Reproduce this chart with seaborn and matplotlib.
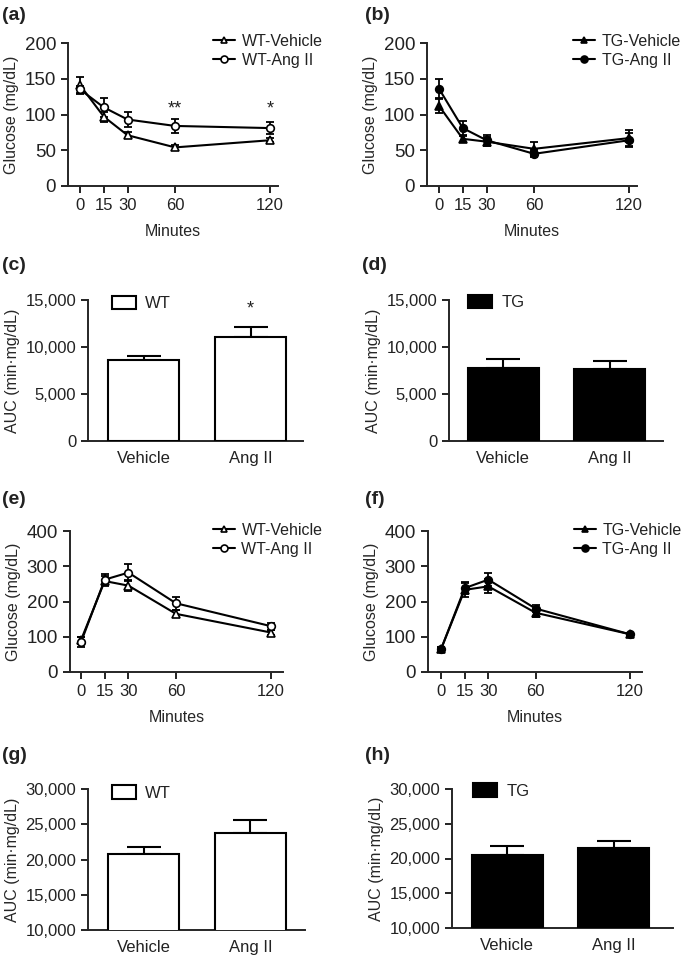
import matplotlib
matplotlib.use("Agg")
import matplotlib.pyplot as plt
from matplotlib.patches import Patch
from matplotlib.lines import Line2D
from matplotlib.ticker import FuncFormatter
import numpy as np
import pandas as pd
import seaborn as sns

# ---- data ----
minutes = [0, 15, 30, 60, 120]

# ITT (a, b)
itt_wt_veh = [141, 97, 71, 54, 64]
itt_wt_veh_err = [12, 7, 4, 3, 3]
itt_wt_ang = [135, 110, 93, 84, 81]
itt_wt_ang_err = [5, 13, 11, 10, 8]
itt_tg_veh = [112, 66, 62, 52, 67]
itt_tg_veh_err = [10, 4, 6, 10, 11]
itt_tg_ang = [136, 81, 64, 45, 64]
itt_tg_ang_err = [13, 10, 7, 5, 10]

# GTT (e, f)
gtt_wt_veh = [90, 258, 245, 165, 112]
gtt_wt_veh_err = [10, 15, 15, 10, 8]
gtt_wt_ang = [84, 262, 282, 195, 130]
gtt_wt_ang_err = [14, 15, 25, 18, 10]
gtt_tg_veh = [65, 233, 243, 168, 107]
gtt_tg_veh_err = [5, 20, 20, 12, 4]
gtt_tg_ang = [65, 238, 262, 180, 107]
gtt_tg_ang_err = [5, 18, 18, 10, 4]

treatments = ["Vehicle", "Ang II"]
auc_itt_wt = [8600, 11050]
auc_itt_wt_err = [400, 1100]
auc_itt_tg = [7730, 7660]
auc_itt_tg_err = [950, 850]
auc_gtt_wt = [20850, 23700]
auc_gtt_wt_err = [900, 1950]
auc_gtt_tg = [20450, 21500]
auc_gtt_tg_err = [1300, 1000]

sns.set_style("ticks")
plt.rcParams["font.family"] = ["Liberation Sans", "DejaVu Sans"]
plt.rcParams["axes.linewidth"] = 1.4
plt.rcParams["xtick.major.width"] = 1.4
plt.rcParams["ytick.major.width"] = 1.4
plt.rcParams["xtick.major.size"] = 5
plt.rcParams["ytick.major.size"] = 5
plt.rcParams["xtick.labelsize"] = 12
plt.rcParams["ytick.labelsize"] = 12
plt.rcParams["text.color"] = "#222222"
plt.rcParams["xtick.color"] = "#222222"
plt.rcParams["ytick.color"] = "#222222"

W, H = 685, 957
fig = plt.figure(figsize=(W / 100, H / 100), dpi=100)


def add_ax(left, right, top, bottom):
    return fig.add_axes([left / W, 1 - bottom / H, (right - left) / W, (bottom - top) / H])


def line_panel(ax, veh, veh_err, ang, ang_err, labels, filled, ylim, yticks, xlim, legx, legy):
    face = "black" if filled else "white"
    for vals, err, lab, mk in [(veh, veh_err, labels[0], "^"), (ang, ang_err, labels[1], "o")]:
        df = pd.DataFrame({"Minutes": minutes, "Glucose": vals})
        sns.lineplot(data=df, x="Minutes", y="Glucose", ax=ax, color="black", lw=1.5,
                     marker=mk, markersize=5.5, markerfacecolor=face,
                     markeredgecolor="black", markeredgewidth=1.2, label=lab, zorder=3)
        ax.errorbar(minutes, vals, yerr=err, fmt="none", ecolor="black",
                    elinewidth=1.3, capsize=3, capthick=1.3, zorder=2)
    ax.set_xlim(*xlim)
    ax.set_ylim(*ylim)
    ax.set_xticks(minutes)
    ax.set_yticks(yticks)
    ax.tick_params(axis="y", labelsize=13.5)
    ax.set_xlabel("Minutes", fontsize=11.5, labelpad=8)
    ax.set_ylabel("Glucose (mg/dL)", fontsize=11.5, labelpad=4)
    sns.despine(ax=ax)
    handles = [Line2D([], [], color="black", lw=1.5, marker="^", markersize=5,
                      markerfacecolor=face, markeredgewidth=1.2),
               Line2D([], [], color="black", lw=1.5, marker="o", markersize=5,
                      markerfacecolor=face, markeredgewidth=1.2)]
    ax.legend(handles, labels, loc="upper left", bbox_to_anchor=(legx, legy),
              frameon=False, fontsize=11.5, handlelength=1.4, handletextpad=0.4,
              labelspacing=0.25, borderaxespad=0, borderpad=0)


def bar_panel(ax, vals, errs, face, leglabel, ylim, yticks, xlim, legx, legy):
    df = pd.DataFrame({"Treatment": treatments, "AUC": vals})
    sns.barplot(data=df, x="Treatment", y="AUC", color=face, edgecolor="black",
                linewidth=1.5, width=0.67, ax=ax, zorder=3, saturation=1)
    ax.errorbar([0, 1], vals, yerr=[[0, 0], errs], fmt="none", ecolor="black",
                elinewidth=1.5, capsize=12, capthick=1.5, zorder=2)
    ax.set_xlim(*xlim)
    ax.set_ylim(*ylim)
    ax.set_yticks(yticks)
    ax.yaxis.set_major_formatter(FuncFormatter(lambda v, p: f"{v:,.0f}"))
    ax.tick_params(axis="x", length=0, pad=7)
    ax.set_xlabel("")
    ax.set_ylabel("AUC (min\u00b7mg/dL)", fontsize=11.5, labelpad=4)
    sns.despine(ax=ax)
    ax.legend([Patch(facecolor=face, edgecolor="black", lw=1.5)], [leglabel],
              loc="upper left", bbox_to_anchor=(legx, legy), frameon=False,
              fontsize=12, handlelength=1.45, handleheight=0.85, handletextpad=0.55,
              borderaxespad=0, borderpad=0)


# (a) ITT WT
ax_a = add_ax(68, 278, 43, 186)
line_panel(ax_a, itt_wt_veh, itt_wt_veh_err, itt_wt_ang, itt_wt_ang_err,
           ["WT-Vehicle", "WT-Ang II"], False, (0, 200), [0, 50, 100, 150, 200],
           (-7.6, 125), 0.69, 1.065)
ax_a.text(60, 108, "**", ha="center", va="center", fontsize=13)
ax_a.text(120, 108, "*", ha="center", va="center", fontsize=13)

# (b) ITT TG
ax_b = add_ax(427, 637, 43, 186)
line_panel(ax_b, itt_tg_veh, itt_tg_veh_err, itt_tg_ang, itt_tg_ang_err,
           ["TG-Vehicle", "TG-Ang II"], True, (0, 200), [0, 50, 100, 150, 200],
           (-7.6, 125), 0.695, 1.065)

# (c) AUC ITT WT
ax_c = add_ax(88, 303, 300, 441)
bar_panel(ax_c, auc_itt_wt, auc_itt_wt_err, "white", "WT", (0, 15000),
          [0, 5000, 10000, 15000], (-0.52, 1.49), 0.11, 1.03)
ax_c.text(1, 14000, "*", ha="center", va="center", fontsize=13)

# (d) AUC ITT TG
ax_d = add_ax(449, 663, 300, 441)
bar_panel(ax_d, auc_itt_tg, auc_itt_tg_err, "black", "TG", (0, 15000),
          [0, 5000, 10000, 15000], (-0.51, 1.50), 0.09, 1.035)

# (e) GTT WT
ax_e = add_ax(70, 283, 531, 672)
line_panel(ax_e, gtt_wt_veh, gtt_wt_veh_err, gtt_wt_ang, gtt_wt_ang_err,
           ["WT-Vehicle", "WT-Ang II"], False, (0, 400), [0, 100, 200, 300, 400],
           (-6.9, 127.6), 0.67, 1.06)

# (f) GTT TG
ax_f = add_ax(428, 642, 531, 672)
line_panel(ax_f, gtt_tg_veh, gtt_tg_veh_err, gtt_tg_ang, gtt_tg_ang_err,
           ["TG-Vehicle", "TG-Ang II"], True, (0, 400), [0, 100, 200, 300, 400],
           (-8.3, 127.6), 0.68, 1.06)

# (g) AUC GTT WT
ax_g = add_ax(88, 305, 789, 930)
bar_panel(ax_g, auc_gtt_wt, auc_gtt_wt_err, "white", "WT", (10000, 30000),
          [10000, 15000, 20000, 25000, 30000], (-0.52, 1.51), 0.11, 1.025)

# (h) AUC GTT TG
ax_h = add_ax(452, 673, 789, 928)
bar_panel(ax_h, auc_gtt_tg, auc_gtt_tg_err, "black", "TG", (10000, 30000),
          [10000, 15000, 20000, 25000, 30000], (-0.52, 1.56), 0.095, 1.04)

for lab, x, y in [("(a)", 2, 15), ("(b)", 365, 15), ("(c)", 2, 265), ("(d)", 362, 265),
                  ("(e)", 2, 500), ("(f)", 365, 500), ("(g)", 2, 755), ("(h)", 365, 755)]:
    fig.text(x / W, 1 - y / H, lab, fontsize=14, fontweight="bold", va="center", ha="left")

fig.savefig("out.png", dpi=100, facecolor="white")
